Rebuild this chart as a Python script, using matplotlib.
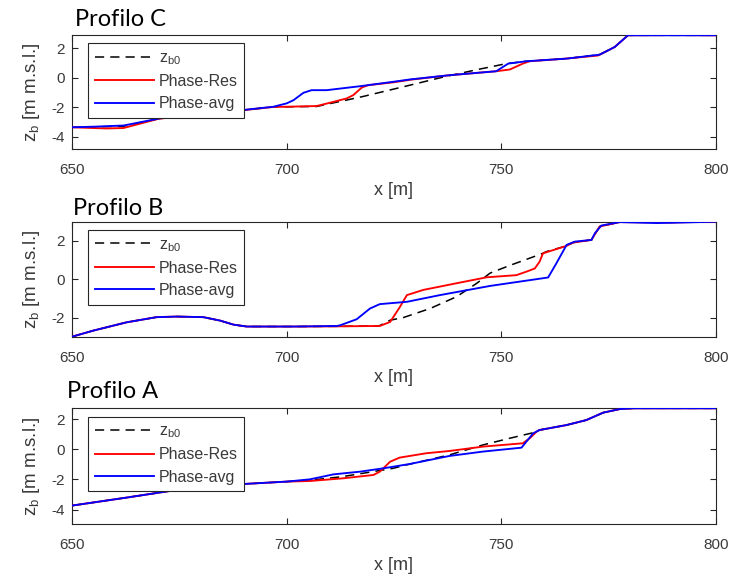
import matplotlib
matplotlib.use("Agg")
import matplotlib.pyplot as plt

plt.rcParams['axes.unicode_minus'] = False

# ---------------- data ----------------
# Profilo C
xC_res = [650, 655, 658, 662, 670, 681, 690, 697, 700, 707, 711, 714, 715.5, 717.5, 719, 725, 729, 738, 748.8, 752, 755, 756.6, 765, 772.5, 776.4, 779.5, 790, 800]
zC_res = [-3.37, -3.42, -3.45, -3.42, -2.8, -2.4, -2.2, -1.98, -1.97, -1.92, -1.63, -1.4, -1.18, -0.66, -0.5, -0.3, -0.12, 0.18, 0.45, 0.57, 0.97, 1.13, 1.31, 1.52, 2.1, 2.9, 2.92, 2.9]
xC_avg = [650, 655, 662, 670.5, 681.4, 689.9, 696.9, 700, 701.6, 703.9, 705.8, 709.3, 717.1, 724.8, 728.7, 737.9, 748.8, 751.6, 755.8, 765.2, 772.9, 776.4, 779.5, 800]
zC_avg = [-3.37, -3.33, -3.25, -2.76, -2.38, -2.19, -1.97, -1.74, -1.52, -1.02, -0.84, -0.84, -0.57, -0.27, -0.11, 0.18, 0.45, 0.97, 1.13, 1.31, 1.58, 2.1, 2.9, 2.9]
xC_zb0 = [650, 662, 670, 681, 690, 697, 707, 717.5, 728.7, 736.4, 744.2, 751.2, 755.8, 765.2, 772.9, 776.4, 779.5, 800]
zC_zb0 = [-3.37, -3.3, -2.8, -2.4, -2.2, -1.98, -1.95, -1.29, -0.5, 0.05, 0.55, 0.97, 1.13, 1.31, 1.58, 2.1, 2.9, 2.9]

# Profilo B
xB_res = [650, 655, 662.7, 669.7, 674.4, 680.6, 684.5, 687.6, 690.7, 701.6, 711.6, 721.7, 724.1, 726.4, 728, 731.8, 739.6, 746.6, 753.5, 755.8, 757.8, 758.9, 759.7, 765.2, 766.7, 771, 772.9, 777.6, 788.5, 800]
zB_res = [-3.0, -2.68, -2.25, -1.98, -1.95, -1.98, -2.16, -2.37, -2.47, -2.47, -2.46, -2.44, -2.23, -1.44, -0.83, -0.56, -0.21, 0.1, 0.21, 0.39, 0.56, 0.91, 1.35, 1.74, 1.91, 2.05, 2.75, 2.98, 2.96, 3.0]
xB_avg = [650, 655, 662.7, 669.7, 674.4, 680.6, 684.5, 687.6, 690.7, 701.6, 711.6, 712.4, 716.3, 719.4, 721.7, 728, 735.7, 747.4, 760.9, 762.8, 765.2, 767.1, 771, 771.8, 773.3, 777.6, 786.2, 792.4, 800]
zB_avg = [-3.0, -2.68, -2.25, -1.98, -1.95, -1.98, -2.16, -2.37, -2.47, -2.47, -2.44, -2.41, -2.09, -1.53, -1.3, -1.18, -0.83, -0.35, 0.09, 0.82, 1.79, 1.96, 2.05, 2.4, 2.8, 2.98, 2.93, 2.96, 3.0]
xB_zb0 = [650, 655, 662.7, 669.7, 674.4, 680.6, 684.5, 687.6, 690.7, 701.6, 711.6, 721.5, 724.1, 727.2, 733.4, 739.6, 744.3, 747.4, 752, 759.7, 760.5, 765.2, 766.7, 771, 772.9, 777.6, 788.5, 800]
zB_zb0 = [-3.0, -2.68, -2.25, -1.98, -1.95, -1.98, -2.16, -2.37, -2.47, -2.47, -2.46, -2.44, -2.14, -2.0, -1.53, -0.91, -0.21, 0.32, 0.72, 1.35, 1.44, 1.74, 1.91, 2.05, 2.75, 2.98, 2.96, 3.0]

# Profilo A
xA_res = [650, 662.7, 674.4, 686, 700, 705.4, 713.2, 720.2, 721.7, 724.1, 726.3, 732.5, 737.9, 745.7, 755, 756.6, 758.2, 758.9, 765.2, 769.8, 773.7, 777.6, 780.7, 800]
zA_res = [-3.73, -3.2, -2.69, -2.36, -2.14, -2.1, -1.92, -1.7, -1.48, -0.82, -0.55, -0.26, -0.11, 0.18, 0.4, 0.73, 1.17, 1.28, 1.61, 1.94, 2.43, 2.67, 2.72, 2.72]
xA_avg = [650, 662.7, 674.4, 686, 700, 705.4, 710.9, 717.1, 722.5, 728.7, 737.9, 745.7, 754.7, 757.4, 758.9, 765.2, 769.8, 773.7, 777.6, 780.7, 800]
zA_avg = [-3.73, -3.2, -2.69, -2.36, -2.14, -1.99, -1.66, -1.48, -1.26, -0.97, -0.44, -0.15, 0.11, 1.06, 1.28, 1.61, 1.94, 2.43, 2.67, 2.72, 2.72]
xA_zb0 = [650, 662.7, 674.4, 686, 700, 705.4, 713, 724.8, 727.8, 737.9, 745.7, 751.9, 757.4, 758.9, 765.2, 769.8, 773.7, 777.6, 780.7, 800]
zA_zb0 = [-3.73, -3.2, -2.69, -2.36, -2.14, -2.05, -1.81, -1.26, -1.04, -0.37, 0.29, 0.73, 1.1, 1.28, 1.61, 1.94, 2.43, 2.67, 2.72, 2.72]

titles = ["Profilo C", "Profilo B", "Profilo A"]
legend_labels = [r"$\mathregular{z_{b0}}$", "Phase-Res", "Phase-avg"]
xticks = [650, 700, 750, 800]
yticks_list = [[-4, -2, 0, 2], [-2, 0, 2], [-4, -2, 0, 2]]
ylims = [(-4.87, 2.92), (-3.0, 3.0), (-4.97, 2.72)]

panels = [
    (xC_zb0, zC_zb0, xC_res, zC_res, xC_avg, zC_avg),
    (xB_zb0, zB_zb0, xB_res, zB_res, xB_avg, zB_avg),
    (xA_zb0, zA_zb0, xA_res, zA_res, xA_avg, zA_avg),
]

# ---------------- layout ----------------
W, H = 742, 577
fig = plt.figure(figsize=(W / 100, H / 100), dpi=100)
fig.patch.set_facecolor("white")

# axes boxes in pixels: (left, top, right, bottom)
boxes = [(72, 35, 716, 149.3), (72, 221.7, 716, 336.7), (72, 408.3, 716, 524.3)]
title_pos = [(75, 26), (73, 215), (67, 397.7)]

txtc = "#3a3a3a"
for i, (box, data) in enumerate(zip(boxes, panels)):
    l, t, r, b = box
    ax = fig.add_axes([l / W, 1 - b / H, (r - l) / W, (b - t) / H])
    xz, zz, xr, zr, xa, za = data
    ax.plot(xz, zz, color="black", lw=1.1, ls=(0, (6, 4)), label=legend_labels[0], zorder=2)
    ax.plot(xr, zr, color="red", lw=1.35, label=legend_labels[1], zorder=3)
    ax.plot(xa, za, color="blue", lw=1.35, label=legend_labels[2], zorder=4)
    ax.set_xlim(650, 800)
    ax.set_ylim(*ylims[i])
    ax.set_xticks(xticks)
    ax.set_yticks(yticks_list[i])
    ax.tick_params(direction="in", top=True, right=True, length=4, width=0.8,
                   colors="#262626", labelcolor=txtc, labelsize=11)
    ax.tick_params(axis="x", pad=10)
    ax.tick_params(axis="y", pad=5)
    for lab in ax.get_xticklabels() + ax.get_yticklabels():
        lab.set_family("Liberation Sans")
    for s in ax.spines.values():
        s.set_color("#262626")
        s.set_linewidth(0.8)
    ax.set_xlabel("x [m]", family="Liberation Sans", fontsize=13, color=txtc)
    ax.xaxis.set_label_coords(0.5, -0.285)
    ax.set_ylabel(r"$\mathregular{z_b}$ [m m.s.l.]", family="Liberation Sans", fontsize=13.5, color=txtc)
    ax.yaxis.set_label_coords(-0.047, 0.5)
    leg = ax.legend(loc="upper left", bbox_to_anchor=(16 / 644, 1 - 8.5 / 115), borderaxespad=0,
                    fancybox=False, framealpha=1, edgecolor="#262626",
                    prop={"family": "Liberation Sans", "size": 11.5},
                    handlelength=3.7, handletextpad=0.3, labelspacing=0.45, borderpad=0.42)
    leg.get_frame().set_linewidth(0.8)
    for txt in leg.get_texts():
        txt.set_color(txtc)
    tx, ty = title_pos[i]
    fig.text(tx / W, 1 - ty / H, titles[i], family="Lato", fontsize=17, va="baseline", ha="left", color="black")

fig.savefig("out.png", dpi=100)
